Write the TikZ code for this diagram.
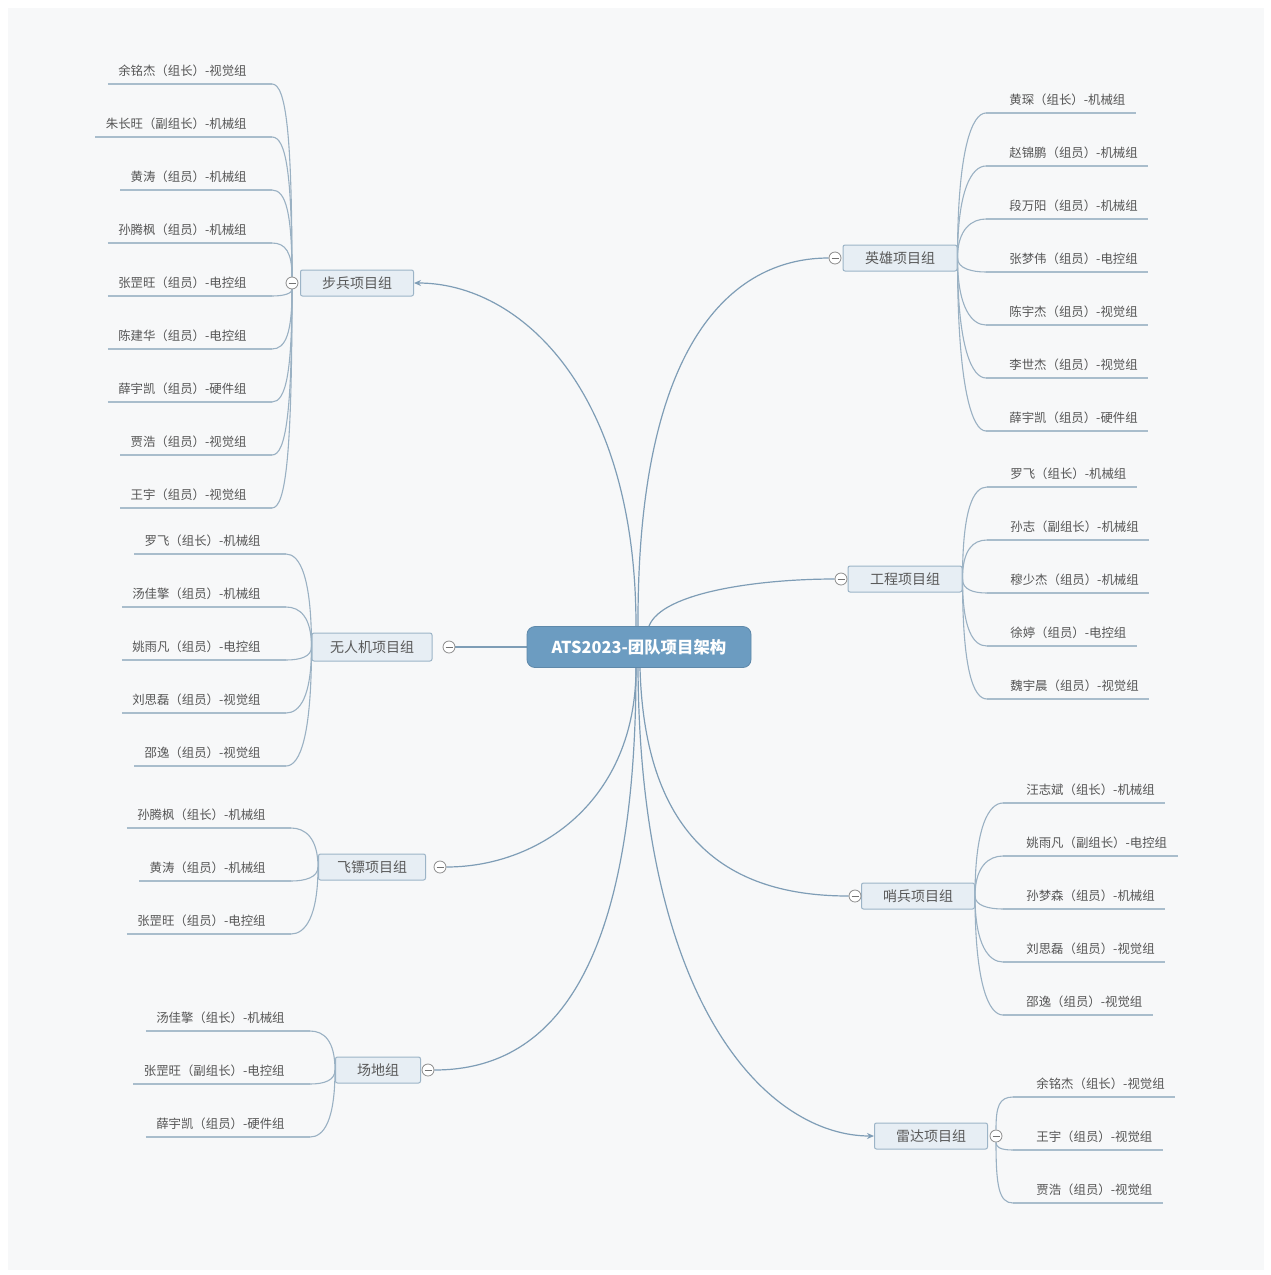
\documentclass[tikz,border=0pt]{standalone}
\usepackage{fontspec}
\setmainfont{Noto Sans CJK SC}
\usetikzlibrary{calc,arrows.meta}

\definecolor{pagebg}{HTML}{F7F8F9}
\definecolor{mainln}{HTML}{7E9DB6}
\definecolor{subln}{HTML}{9AB1C3}
\definecolor{uline}{HTML}{A9BDCC}
\definecolor{topicfill}{HTML}{E7EEF4}
\definecolor{topicdraw}{HTML}{9CB4C7}
\definecolor{rootfill}{HTML}{6C9CC1}
\definecolor{membertxt}{HTML}{555555}

\pgfdeclarelayer{bg}
\pgfdeclarelayer{links}
\pgfsetlayers{bg,links,main}

\tikzset{
  root/.style={rectangle, rounded corners=4pt, fill=rootfill, draw=rootfill!88!black,
    line width=0.4pt, minimum width=112pt, minimum height=20.5pt, text=white,
    font=\fontsize{8.2}{9}\selectfont\bfseries},
  topic/.style={rectangle, rounded corners=1pt, fill=topicfill, draw=topicdraw,
    line width=0.5pt, minimum height=13pt, inner sep=0pt, text=black!65,
    font=\fontsize{7}{8}\selectfont},
  member/.style={inner xsep=5pt, inner ysep=3pt, text height=5pt, text depth=1.2pt,
    text=membertxt, font=\fontsize{6.2}{7}\selectfont},
  memL/.style={member, anchor=south east},
  memR/.style={member, anchor=south west},
  toggle/.style={circle, draw=black!45, fill=white, line width=0.4pt,
    minimum size=6pt, inner sep=0pt,
    path picture={\draw[black!55, line width=0.4pt]
      ($(path picture bounding box.west)+(2.5,0)$) -- ($(path picture bounding box.east)+(-2.5,0)$);}},
  mainlink/.style={draw=mainln, line width=0.6pt},
  sublink/.style={draw=subln, line width=0.55pt},
  underline/.style={draw=uline, line width=0.6pt},
  tip/.style={-{Stealth[length=3.5pt,width=3pt]}},
}

% member list on the left: prefix, parent point, line end x, first line y, names
\newcommand\mmListL[5]{%
  \foreach \t [count=\i] in {#5}{%
    \node[memL] (#1\i) at (#3,{#4+53*(\i-1)}) {\t\kern7.5pt};
    \begin{pgfonlayer}{links}
      \draw[underline] (#1\i.south west) -- (#1\i.south east);
      \draw[sublink] (#2) .. controls ($(#2)!0.75!(#2|-#1\i.south east)$)
        and ($(#1\i.south east)+(14,0)$) .. (#1\i.south east);
    \end{pgfonlayer}
  }}
% member list on the right: prefix, parent point, line start x, first line y, names
\newcommand\mmListR[5]{%
  \foreach \t [count=\i] in {#5}{%
    \node[memR] (#1\i) at (#3,{#4+53*(\i-1)}) {\kern6.5pt\t};
    \begin{pgfonlayer}{links}
      \draw[underline] (#1\i.south west) -- (#1\i.south east);
      \draw[sublink] (#2) .. controls ($(#2)!0.75!(#2|-#1\i.south west)$)
        and ($(#1\i.south west)+(-14,0)$) .. (#1\i.south west);
    \end{pgfonlayer}
  }}

\begin{document}
\begin{tikzpicture}[x=0.5pt, y=-0.5pt]
  \useasboundingbox (0,0) rectangle (1270,1275);
  \begin{pgfonlayer}{bg}
    \fill[white] (0,0) rectangle (1270,1275);
    \fill[pagebg] (8,8) rectangle (1264,1270);
  \end{pgfonlayer}

  % central topic
  \node[root] (root) at (639,647) {ATS2023-团队项目架构};

  % main branches
  \node[topic, minimum width=56.5pt] (inf) at (357,283) {步兵项目组};
  \node[toggle] (infC) at (292,283) {};
  \node[topic, minimum width=60pt, minimum height=14pt] (uav) at (372,647) {无人机项目组};
  \node[toggle] (uavC) at (449,647) {};
  \node[topic, minimum width=53.5pt] (dart) at (372,867) {飞镖项目组};
  \node[toggle] (dartC) at (440,867) {};
  \node[topic, minimum width=42.5pt] (field) at (378,1070) {场地组};
  \node[toggle] (fieldC) at (428,1070) {};
  \node[topic, minimum width=57pt] (hero) at (900,258) {英雄项目组};
  \node[toggle] (heroC) at (835,258) {};
  \node[topic, minimum width=57pt] (eng) at (905,579) {工程项目组};
  \node[toggle] (engC) at (841,579) {};
  \node[topic, minimum width=56.5pt] (sent) at (918,896) {哨兵项目组};
  \node[toggle] (sentC) at (855,896) {};
  \node[topic, minimum width=56.5pt] (radar) at (931,1136) {雷达项目组};
  \node[toggle] (radarC) at (996,1136) {};

  \begin{pgfonlayer}{links}
    \draw[mainlink, tip] ($(root.north)+(-3,0)$) .. controls (636,390) and (520,283) .. (inf.east);
    \draw[mainlink] ($(root.north)+(-1,0)$) .. controls (637,330) and (740,258) .. (heroC);
    \draw[mainlink] ($(root.north)+(10,0)$) .. controls (662,592) and (760,579) .. (engC);
    \draw[mainlink] (root.west) -- (uavC);
    \draw[mainlink] ($(root.south)+(-3,0)$) .. controls (636,800) and (540,867) .. (dartC);
    \draw[mainlink] ($(root.south)+(-3,0)$) .. controls (636,990) and (540,1070) .. (fieldC);
    \draw[mainlink] ($(root.south)+(1,0)$) .. controls (645,850) and (740,896) .. (sentC);
    \draw[mainlink, tip] ($(root.south)+(-1,0)$) .. controls (640,1010) and (770,1136) .. (radar.west);
  \end{pgfonlayer}

  % members
  \mmListL{a}{infC}{272}{84}{余铭杰（组长）-视觉组, 朱长旺（副组长）-机械组, 黄涛（组员）-机械组,
    孙腾枫（组员）-机械组, 张罡旺（组员）-电控组, 陈建华（组员）-电控组,
    薛宇凯（组员）-硬件组, 贾浩（组员）-视觉组, 王宇（组员）-视觉组}
  \mmListL{b}{uav.west}{286}{554}{罗飞（组长）-机械组, 汤佳擎（组员）-机械组, 姚雨凡（组员）-电控组,
    刘思磊（组员）-视觉组, 邵逸（组员）-视觉组}
  \mmListL{c}{dart.west}{291}{828}{孙腾枫（组长）-机械组, 黄涛（组员）-机械组, 张罡旺（组员）-电控组}
  \mmListL{d}{field.west}{310}{1031}{汤佳擎（组长）-机械组, 张罡旺（副组长）-电控组, 薛宇凯（组员）-硬件组}

  \mmListR{e}{hero.east}{986}{113}{黄琛（组长）-机械组, 赵锦鹏（组员）-机械组, 段万阳（组员）-机械组,
    张梦伟（组员）-电控组, 陈宇杰（组员）-视觉组, 李世杰（组员）-视觉组, 薛宇凯（组员）-硬件组}
  \mmListR{f}{eng.east}{987}{487}{罗飞（组长）-机械组, 孙志（副组长）-机械组, 穆少杰（组员）-机械组,
    徐婷（组员）-电控组, 魏宇晨（组员）-视觉组}
  \mmListR{g}{sent.east}{1003}{803}{汪志斌（组长）-机械组, 姚雨凡（副组长）-电控组, 孙梦森（组员）-机械组,
    刘思磊（组员）-视觉组, 邵逸（组员）-视觉组}
  \mmListR{h}{radarC}{1013}{1097}{余铭杰（组长）-视觉组, 王宇（组员）-视觉组, 贾浩（组员）-视觉组}
\end{tikzpicture}
\end{document}
